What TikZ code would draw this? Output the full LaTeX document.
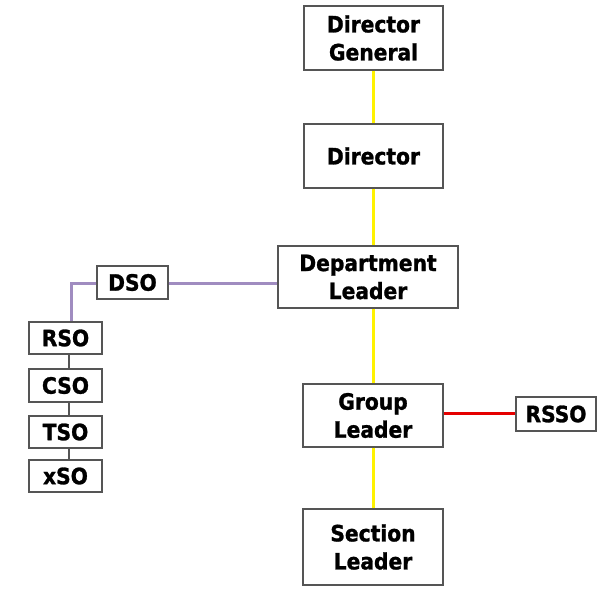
\documentclass[tikz,border=0pt]{standalone}
\usepackage{fontspec}
\setmainfont{DejaVu Sans Condensed}[BoldFont={DejaVu Sans Condensed Bold},BoldFeatures={FakeBold=1.2}]
\definecolor{dsopurple}{RGB}{160,140,192}
\definecolor{boxgray}{RGB}{85,85,85}
\begin{document}
\begin{tikzpicture}[x=1pt,y=-1pt,
  box/.style={draw=boxgray,line width=1.2pt,fill=white,inner sep=0pt,
    font=\fontsize{22.5}{28}\selectfont\bfseries,align=center,text=black},
  chain/.style={yellow,line width=3pt},
  dsoline/.style={draw=dsopurple,line width=3pt},
  thin/.style={draw=boxgray,line width=1.1pt},
  rsso/.style={draw=red!90!black,line width=3pt}]
\useasboundingbox (0,0) rectangle (610,590);
% main line of command
\node[box,minimum width=139pt,minimum height=64pt] (dg) at (373.5,38) {Director\\General};
\node[box,minimum width=139pt,minimum height=64pt] (dir) at (373.5,156) {Director};
\node[box,minimum width=180pt,minimum height=62pt] (dl) at (368,277) {Department\\Leader};
\node[box,minimum width=140pt,minimum height=63pt] (gl) at (373,415.5) {Group\\Leader};
\node[box,minimum width=140pt,minimum height=76pt] (sl) at (373,547) {Section\\Leader};
% safety officers
\node[box,minimum width=71pt,minimum height=33pt] (dso) at (132.5,282.5) {DSO};
\node[box,minimum width=73pt,minimum height=32pt] (rso) at (65.5,338) {RSO};
\node[box,minimum width=73pt,minimum height=33pt] (cso) at (65.5,385.5) {CSO};
\node[box,minimum width=73pt,minimum height=32pt] (tso) at (65.5,432) {TSO};
\node[box,minimum width=73pt,minimum height=32pt] (xso) at (65.5,476) {xSO};
\node[box,minimum width=80pt,minimum height=34pt] (rssoN) at (556,414) {RSSO};
% connectors
\draw[chain] (dg.south -| 373,0) -- (dir.north -| 373,0);
\draw[chain] (dir.south -| 373,0) -- (dl.north -| 373,0);
\draw[chain] (dl.south -| 373,0) -- (gl.north -| 373,0);
\draw[chain] (gl.south -| 373,0) -- (sl.north -| 373,0);
\draw[rsso] (gl.east |- 0,413) -- (rssoN.west |- 0,413);
\draw[dsoline] (dso.east |- 0,283) -- (dl.west |- 0,283);
\draw[dsoline] (dso.west |- 0,283) -| (rso.north -| 71,0);
\draw[thin] (rso.south -| 69,0) -- (cso.north -| 69,0);
\draw[thin] (cso.south -| 69,0) -- (tso.north -| 69,0);
\draw[thin] (tso.south -| 69,0) -- (xso.north -| 69,0);
\end{tikzpicture}
\end{document}
